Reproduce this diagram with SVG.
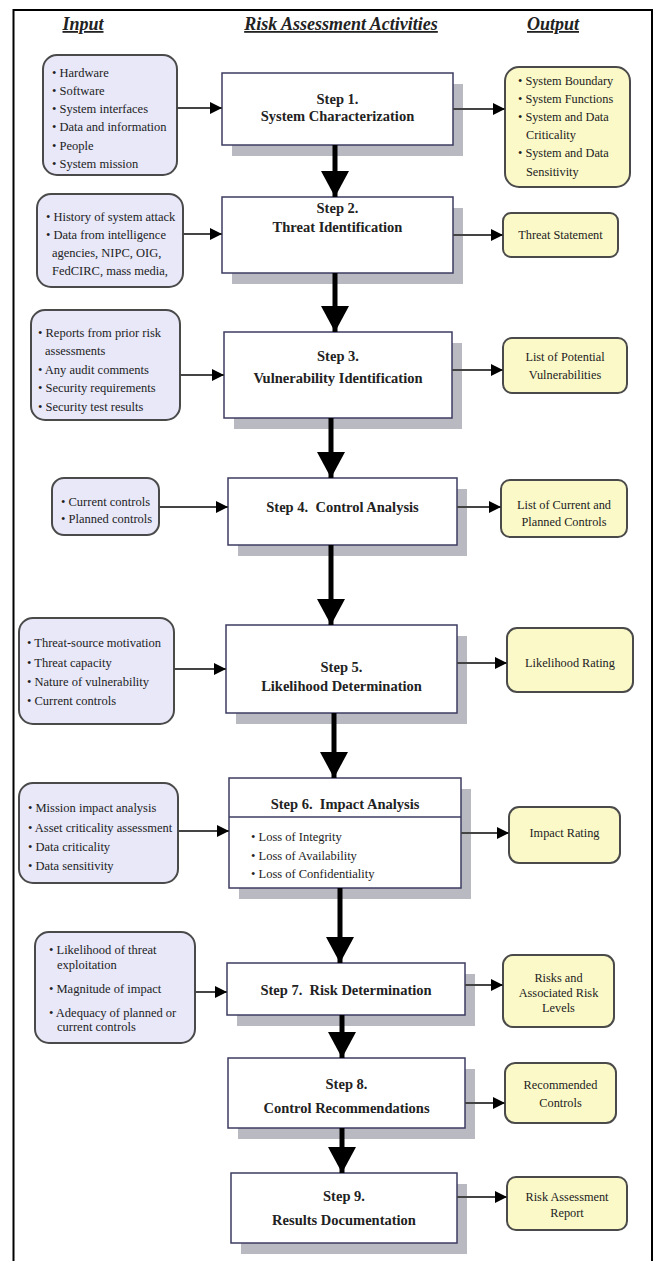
<svg xmlns="http://www.w3.org/2000/svg" width="661" height="1261" viewBox="0 0 661 1261">
<defs>
<marker id="ah" viewBox="0 0 12 12" refX="12" refY="6" markerWidth="12" markerHeight="12" markerUnits="userSpaceOnUse" orient="auto"><path d="M0,0 L12,6 L0,12 z" fill="#000"/></marker>
<marker id="bh" viewBox="0 0 26 28" refX="26" refY="14" markerWidth="26" markerHeight="28" markerUnits="userSpaceOnUse" orient="auto"><path d="M0,0 L26,14 L0,28 z" fill="#000"/></marker>
<style>
.hdr{font-family:"Liberation Serif","Times New Roman",serif;font-weight:bold;font-style:italic;font-size:18px;fill:#222;text-decoration:underline;text-anchor:middle}
.in{fill:#e8e8f9;stroke:#4a4a4a;stroke-width:2}
.out{fill:#fbf9c8;stroke:#4a4a4a;stroke-width:2}
.step{fill:#fff;stroke:#3c3c62;stroke-width:1.5}
.sh{fill:#b9b9c2}
.t{font-family:"Liberation Serif","Times New Roman",serif;font-size:12.5px;fill:#222}
.to{font-family:"Liberation Serif","Times New Roman",serif;font-size:12.3px;fill:#222}
.c{text-anchor:middle}
.st{font-family:"Liberation Serif","Times New Roman",serif;font-size:14.5px;font-weight:bold;fill:#222;text-anchor:middle}
.ha{stroke:#444;stroke-width:2;fill:none;marker-end:url(#ah)}
.va{stroke:#000;stroke-width:5;fill:none;marker-end:url(#bh)}
</style>
</defs>
<rect width="661" height="1261" fill="#fff"/>
<path d="M13.5,1261 V10 H652 V1261" fill="none" stroke="#000" stroke-width="2"/>
<g id="headers">
<text class="hdr" x="83" y="30">Input</text>
<text class="hdr" x="341" y="30">Risk Assessment Activities</text>
<text class="hdr" x="553" y="30">Output</text>
</g>

<g id="input1"><rect class="in" x="43" y="55" width="134" height="120" rx="14"/>
<text class="t"><tspan x="52" y="77">• Hardware</tspan><tspan x="52" y="95">• Software</tspan><tspan x="52" y="113">• System interfaces</tspan><tspan x="52" y="131">• Data and information</tspan><tspan x="52" y="150">• People</tspan><tspan x="52" y="168">• System mission</tspan></text></g>
<g id="input2"><rect class="in" x="37" y="194" width="146" height="93" rx="14"/>
<text class="t"><tspan x="46" y="221">• History of system attack</tspan><tspan x="46" y="239">• Data from intelligence</tspan><tspan x="52" y="257">agencies, NIPC, OIG,</tspan><tspan x="52" y="275">FedCIRC, mass media,</tspan></text></g>
<g id="input3"><rect class="in" x="31" y="310" width="149" height="110" rx="14"/>
<text class="t"><tspan x="38" y="337">• Reports from prior risk</tspan><tspan x="45" y="355">assessments</tspan><tspan x="38" y="374">• Any audit comments</tspan><tspan x="38" y="392">• Security requirements</tspan><tspan x="38" y="411">• Security test results</tspan></text></g>
<g id="input4"><rect class="in" x="52" y="478" width="107" height="57" rx="12"/>
<text class="t"><tspan x="61" y="506">• Current controls</tspan><tspan x="61" y="523">• Planned controls</tspan></text></g>
<g id="input5"><rect class="in" x="19" y="618" width="155" height="106" rx="14"/>
<text class="t"><tspan x="27" y="647">• Threat-source motivation</tspan><tspan x="27" y="667">• Threat capacity</tspan><tspan x="27" y="686">• Nature of vulnerability</tspan><tspan x="27" y="705">• Current controls</tspan></text></g>
<g id="input6"><rect class="in" x="19" y="783" width="159" height="100" rx="14"/>
<text class="t"><tspan x="28" y="812">• Mission impact analysis</tspan><tspan x="28" y="832">• Asset criticality assessment</tspan><tspan x="28" y="851">• Data criticality</tspan><tspan x="28" y="870">• Data sensitivity</tspan></text></g>
<g id="input7"><rect class="in" x="35" y="932" width="160" height="111" rx="14"/>
<text class="t"><tspan x="49" y="954">• Likelihood of threat</tspan><tspan x="57" y="969">exploitation</tspan><tspan x="49" y="993">• Magnitude of impact</tspan><tspan x="49" y="1017">• Adequacy of planned or</tspan><tspan x="57" y="1031">current controls</tspan></text></g>

<g id="step1"><rect class="sh" x="232" y="84" width="231" height="72"/><rect class="step" x="222" y="73" width="231" height="72"/>
<text class="st"><tspan x="337.5" y="104">Step 1.</tspan><tspan x="337.5" y="121">System Characterization</tspan></text></g>
<g id="step2"><rect class="sh" x="232" y="208" width="231" height="76"/><rect class="step" x="222" y="197" width="231" height="76"/>
<text class="st"><tspan x="337.5" y="213">Step 2.</tspan><tspan x="337.5" y="232">Threat Identification</tspan></text></g>
<g id="step3"><rect class="sh" x="234" y="343" width="228" height="86"/><rect class="step" x="224" y="332" width="228" height="86"/>
<text class="st"><tspan x="338" y="361">Step 3.</tspan><tspan x="338" y="383">Vulnerability Identification</tspan></text></g>
<g id="step4"><rect class="sh" x="238" y="489" width="229" height="67"/><rect class="step" x="228" y="478" width="229" height="67"/>
<text class="st" x="342.5" y="512" xml:space="preserve">Step 4.  Control Analysis</text></g>
<g id="step5"><rect class="sh" x="236" y="636" width="231" height="88"/><rect class="step" x="226" y="625" width="231" height="88"/>
<text class="st"><tspan x="341.5" y="672">Step 5.</tspan><tspan x="341.5" y="691">Likelihood Determination</tspan></text></g>
<g id="step6"><rect class="sh" x="239" y="789" width="232" height="110"/><rect class="step" x="229" y="778" width="232" height="110"/>
<line x1="229" y1="817" x2="461" y2="817" stroke="#3c3c62" stroke-width="1.5"/>
<text class="st" x="345" y="809" xml:space="preserve">Step 6.  Impact Analysis</text>
<text class="t"><tspan x="251" y="841">• Loss of Integrity</tspan><tspan x="251" y="860">• Loss of Availability</tspan><tspan x="251" y="878">• Loss of Confidentiality</tspan></text></g>
<g id="step7"><rect class="sh" x="237" y="974" width="238" height="52"/><rect class="step" x="227" y="963" width="238" height="52"/>
<text class="st" x="346" y="995" xml:space="preserve">Step 7.  Risk Determination</text></g>
<g id="step8"><rect class="sh" x="238" y="1069" width="237" height="70"/><rect class="step" x="228" y="1058" width="237" height="70"/>
<text class="st"><tspan x="346.5" y="1089">Step 8.</tspan><tspan x="346.5" y="1113">Control Recommendations</tspan></text></g>
<g id="step9"><rect class="sh" x="241" y="1184" width="226" height="70"/><rect class="step" x="231" y="1173" width="226" height="70"/>
<text class="st"><tspan x="344" y="1201">Step 9.</tspan><tspan x="344" y="1225">Results Documentation</tspan></text></g>

<g id="output1"><rect class="out" x="505" y="67" width="125" height="120" rx="14"/>
<text class="to"><tspan x="518" y="85">• System Boundary</tspan><tspan x="518" y="103">• System Functions</tspan><tspan x="518" y="121">• System and Data</tspan><tspan x="526" y="139">Criticality</tspan><tspan x="518" y="157">• System and Data</tspan><tspan x="526" y="176">Sensitivity</tspan></text></g>
<g id="output2"><rect class="out" x="503" y="213" width="115" height="44" rx="8"/>
<text class="to c" x="560.5" y="239">Threat Statement</text></g>
<g id="output3"><rect class="out" x="503" y="338" width="124" height="55" rx="9"/>
<text class="to c"><tspan x="565" y="361">List of Potential</tspan><tspan x="565" y="379">Vulnerabilities</tspan></text></g>
<g id="output4"><rect class="out" x="501" y="480" width="126" height="57" rx="9"/>
<text class="to c"><tspan x="564" y="509">List of Current and</tspan><tspan x="564" y="526">Planned Controls</tspan></text></g>
<g id="output5"><rect class="out" x="507" y="628" width="126" height="64" rx="10"/>
<text class="to c" x="570" y="667">Likelihood Rating</text></g>
<g id="output6"><rect class="out" x="509" y="807" width="111" height="56" rx="10"/>
<text class="to c" x="564.5" y="837">Impact Rating</text></g>
<g id="output7"><rect class="out" x="503" y="955" width="111" height="72" rx="10"/>
<text class="to c"><tspan x="558.5" y="982">Risks and</tspan><tspan x="558.5" y="997">Associated Risk</tspan><tspan x="558.5" y="1012">Levels</tspan></text></g>
<g id="output8"><rect class="out" x="505" y="1063" width="111" height="60" rx="10"/>
<text class="to c"><tspan x="560.5" y="1089">Recommended</tspan><tspan x="560.5" y="1107">Controls</tspan></text></g>
<g id="output9"><rect class="out" x="507" y="1177" width="120" height="53" rx="9"/>
<text class="to c"><tspan x="567" y="1201">Risk Assessment</tspan><tspan x="567" y="1217">Report</tspan></text></g>

<g id="connectors">
<line class="ha" x1="177" y1="108" x2="222" y2="108"/>
<line class="ha" x1="183" y1="234" x2="222" y2="234"/>
<line class="ha" x1="180" y1="375" x2="224" y2="375"/>
<line class="ha" x1="159" y1="507" x2="228" y2="507"/>
<line class="ha" x1="174" y1="669" x2="226" y2="669"/>
<line class="ha" x1="178" y1="831" x2="229" y2="831"/>
<line class="ha" x1="195" y1="992" x2="227" y2="992"/>
<line class="ha" x1="453" y1="109" x2="505" y2="109"/>
<line class="ha" x1="453" y1="235" x2="503" y2="235"/>
<line class="ha" x1="452" y1="370" x2="503" y2="370"/>
<line class="ha" x1="457" y1="507" x2="501" y2="507"/>
<line class="ha" x1="457" y1="663" x2="507" y2="663"/>
<line class="ha" x1="461" y1="833" x2="509" y2="833"/>
<line class="ha" x1="465" y1="985" x2="503" y2="985"/>
<line class="ha" x1="465" y1="1103" x2="505" y2="1103"/>
<line class="ha" x1="457" y1="1197" x2="507" y2="1197"/>
<line class="va" x1="335" y1="145" x2="335" y2="197"/>
<line class="va" x1="335" y1="273" x2="335" y2="332"/>
<line class="va" x1="331" y1="418" x2="331" y2="478"/>
<line class="va" x1="331" y1="545" x2="331" y2="625"/>
<line class="va" x1="334" y1="713" x2="334" y2="778"/>
<line class="va" x1="340" y1="888" x2="340" y2="963"/>
<line class="va" x1="342" y1="1015" x2="342" y2="1058"/>
<line class="va" x1="342" y1="1128" x2="342" y2="1173"/>
</g>
</svg>
